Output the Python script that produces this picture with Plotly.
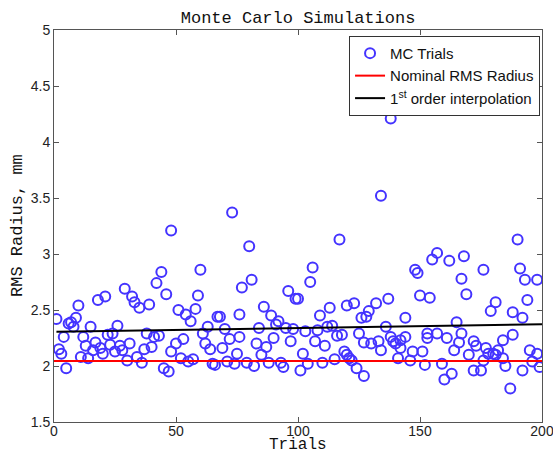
import plotly.graph_objects as go

# ---- data ----
trials = [1, 2, 3, 4, 5, 6, 7, 8, 9, 10, 11, 12, 13, 14, 15, 16, 17, 18, 19, 20, 21, 22,
          23, 24, 25, 26, 27, 28, 29, 30, 31, 32, 33, 34, 35, 36, 37, 38, 39, 40, 41, 42, 43, 44, 45, 46, 47, 48, 48,
          50, 51, 52, 53, 54, 55, 56, 57, 58, 59, 60, 61, 62, 63, 64, 65, 66, 67, 68, 69, 70, 71, 72, 73, 74, 75, 76, 76, 77,
          79, 80, 81, 82, 83, 84, 85, 86, 87, 88, 89, 90, 91, 92, 93, 94, 95, 96, 97, 98, 99, 100, 101, 102, 103,
          104, 105, 106, 107, 108, 109, 110, 111, 112, 113, 114, 115, 116, 117, 118, 119, 120, 120, 121, 122, 123, 124, 125, 126, 127, 127, 128, 129,
          130, 132, 133, 134, 134, 136, 137, 138, 138, 139, 140, 141, 142, 142, 144, 144, 146, 147, 148, 149, 150, 151, 152, 153, 153, 154, 155,
          157, 157, 159, 160, 161, 162, 163, 164, 165, 166, 167, 167, 168, 169, 170, 172, 172, 173, 175, 176, 176, 177, 178, 179, 180, 181, 181,
          182, 184, 184, 185, 187, 188, 188, 190, 191, 192, 192, 193, 194, 195, 196, 198, 198, 199]
rms = [2.42, 2.15, 2.11, 2.26, 1.98, 2.38, 2.39, 2.35, 2.43, 2.54, 2.08, 2.26, 2.18, 2.07, 2.35, 2.14, 2.21, 2.59, 2.16, 2.11, 2.62, 2.28,
       2.19, 2.29, 2.13, 2.36, 2.18, 2.14, 2.69, 2.05, 2.20, 2.62, 2.57, 2.08, 2.52, 2.03, 2.15, 2.29, 2.55, 2.17, 2.26, 2.74, 2.27, 2.84, 1.98, 2.64, 1.95, 3.21, 2.13,
       2.20, 2.50, 2.07, 2.24, 2.46, 2.04, 2.40, 2.06, 2.51, 2.63, 2.86, 2.29, 2.20, 2.35, 2.15, 2.02, 2.01, 2.44, 2.44, 2.16, 2.33, 2.04, 2.24, 3.37, 2.02, 2.11, 2.46, 2.26, 2.70,
       2.03, 3.07, 2.77, 2.00, 2.20, 2.34, 2.10, 2.53, 2.17, 2.03, 2.45, 2.25, 2.37, 2.40, 2.03, 1.99, 2.34, 2.67, 2.22, 2.33, 2.60, 2.60, 1.96, 2.11, 2.31,
       2.02, 2.75, 2.88, 2.22, 2.32, 2.45, 2.03, 2.18, 2.35, 2.52, 2.36, 2.06, 2.27, 3.13, 2.28, 2.13, 2.10, 2.54, 2.07, 2.05, 2.56, 1.98, 2.29, 2.43, 1.91, 2.21, 2.44, 2.49,
       2.20, 2.56, 2.22, 2.14, 3.52, 2.35, 2.60, 2.26, 4.21, 2.22, 2.20, 2.07, 2.16, 2.23, 2.26, 2.43, 2.05, 2.13, 2.86, 2.83, 2.63, 2.13, 2.01, 2.25, 2.29, 2.61, 2.95,
       3.01, 2.29, 2.02, 1.88, 2.25, 2.94, 1.93, 2.14, 2.39, 2.21, 2.29, 2.78, 2.98, 2.64, 2.10, 1.96, 2.22, 2.18, 1.96, 2.86, 2.05, 2.16, 2.11, 2.49, 2.11, 2.57, 2.10,
       2.14, 2.07, 2.23, 2.00, 1.80, 2.48, 2.28, 3.13, 2.87, 2.43, 1.96, 2.77, 2.59, 2.14, 2.04, 2.11, 2.77, 1.99]

nominal_x = [0, 200]
nominal_y = [2.045, 2.045]
fit_x = [1, 200]
fit_y = [2.305, 2.372]

x_ticks = [0, 50, 100, 150, 200]
y_ticks = [1.5, 2, 2.5, 3, 3.5, 4, 4.5, 5]
y_ticklabels = ["1.5", "2", "2.5", "3", "3.5", "4", "4.5", "5"]

MONO = "Liberation Mono, Courier New, monospace"
SANS = "Liberation Sans, Arial, sans-serif"

fig = go.Figure()
fig.add_trace(go.Scatter(
    x=trials, y=rms, mode="markers", name="MC Trials",
    marker=dict(symbol="circle-open", size=10, color="#4433ff", line=dict(width=2, color="#4433ff")),
))
fig.add_trace(go.Scatter(
    x=nominal_x, y=nominal_y, mode="lines", name="Nominal RMS Radius",
    line=dict(color="#ff0000", width=2),
))
fig.add_trace(go.Scatter(
    x=fit_x, y=fit_y, mode="lines", name="1<sup>st</sup> order interpolation",
    line=dict(color="#000000", width=2),
))

axis_common = dict(
    showgrid=False, zeroline=False, showline=True, linecolor="#555555", linewidth=1,
    ticks="inside", ticklen=5, tickcolor="#555555", mirror="ticks",
    tickfont=dict(family=SANS, size=14, color="#222222"),
    ticklabeloverflow="allow", automargin=False,
)

fig.update_layout(
    width=553, height=454,
    margin=dict(l=54, r=11, t=30, b=32),
    paper_bgcolor="white", plot_bgcolor="white",
    showlegend=True,
    title=dict(text="Monte Carlo Simulations", x=0.539, xanchor="center",
               y=1 - 17 / 454, yref="container", yanchor="middle",
               font=dict(family=MONO, size=17, color="#111111")),
    xaxis=dict(range=[0, 200], tickvals=x_ticks, ticklabelstandoff=-4, **axis_common),
    yaxis=dict(range=[1.5, 5], tickvals=y_ticks, ticktext=y_ticklabels, **axis_common),
    legend=dict(x=0.996, xanchor="right", y=0.985, yanchor="top",
                bordercolor="#333333", borderwidth=1, bgcolor="white",
                font=dict(family=SANS, size=15, color="#111111"),
                tracegroupgap=0),
    annotations=[
        dict(text="Trials", xref="paper", yref="paper", x=0.5, y=-(445 - 422) / 392,
             xanchor="center", yanchor="middle", showarrow=False,
             font=dict(family=MONO, size=16, color="#111111")),
        dict(text="RMS Radius, mm", xref="paper", yref="paper", x=-(54 - 17) / 488, y=0.5,
             xanchor="center", yanchor="middle", showarrow=False, textangle=-90,
             font=dict(family=MONO, size=17, color="#111111")),
    ],
)

fig.write_html("out.html")
